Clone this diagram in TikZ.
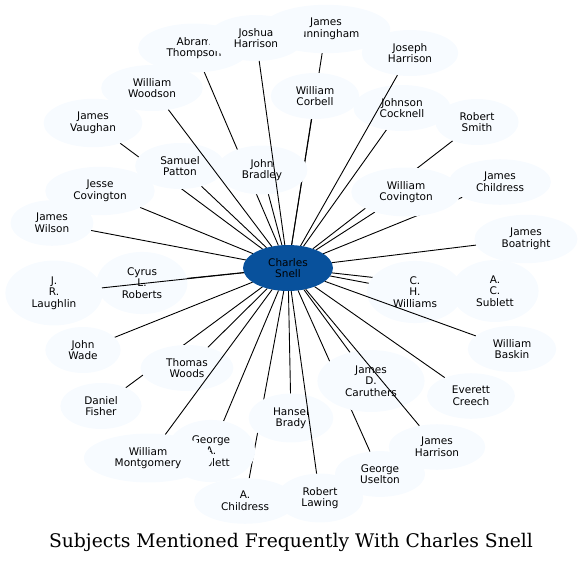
\documentclass[tikz,border=0pt]{standalone}
\usepackage{fontspec}
\usepackage{tikz}
\usetikzlibrary{shapes.geometric}
\newfontfamily\namefont{DejaVu Sans}
\newfontfamily\titlefont{DejaVu Serif}
\definecolor{palefill}{HTML}{F7FBFF}
\definecolor{hubfill}{HTML}{08519C}
\pgfdeclarelayer{background}
\pgfsetlayers{background,main}

\begin{document}
\begin{tikzpicture}[x=1pt, y=-1pt,
		person/.style={ellipse, fill=palefill, inner xsep=12pt, inner ysep=6.4pt, outer sep=0pt, align=center, font=\namefont\fontsize{10.5}{11.6}\selectfont},
		hub/.style={person, fill=hubfill},
		link/.style={line width=0.9pt}]
			\useasboundingbox (0,0) rectangle (582,563);

			\node[hub] (snell) at (288,268) {Charles\\Snell};

			% outer ring, top
			\node[person] (abram) at (194,48) {Abram\\Thompson};
			\node[person] (cunningham) at (326,29) {James\\Cunningham};
			\node[person] (joshua) at (256,38) {Joshua\\Harrison};
			\node[person] (josephh) at (410,53) {Joseph\\Harrison};
			\node[person] (woodson) at (152,88) {William\\Woodson};
			\node[person] (corbell) at (315,96) {William\\Corbell};
			\node[person] (cocknell) at (402,108) {Johnson\\Cocknell};
			\node[person] (smith) at (477,122) {Robert\\Smith};
			\node[person] (vaughan) at (93,123) {James\\Vaughan};
			\node[person] (patton) at (180,166) {Samuel\\Patton};
			\node[person] (bradley) at (262,170) {John\\Bradley};
			\node[person] (jchildress) at (500,182) {James\\Childress};
			\node[person] (jesse) at (100,191) {Jesse\\Covington};
			\node[person] (wcovington) at (406,192) {William\\Covington};
			\node[person] (wilson) at (52,223) {James\\Wilson};
			\node[person] (boatright) at (526,239) {James\\Boatright};

			% middle
			\node[person] (laughlin) at (54,293) {J.\\R.\\Laughlin};
			\node[person] (cyrus) at (142,283) {Cyrus\\L.\\Roberts};
			\node[person] (chwilliams) at (415,292) {C.\\H.\\Williams};
			\node[person] (acsublett) at (495,291) {A.\\C.\\Sublett};

			% bottom
			\node[person] (wade) at (83,350) {John\\Wade};
			\node[person] (baskin) at (512,349) {William\\Baskin};
			\node[person] (thomas) at (187,368) {Thomas\\Woods};
			\node[person] (caruthers) at (371,381) {James\\D.\\Caruthers};
			\node[person] (fisher) at (101,406) {Daniel\\Fisher};
			\node[person] (creech) at (471,396) {Everett\\Creech};
			\node[person] (hansel) at (291,418) {Hansel\\Brady};
			\node[person] (gasublett) at (211,451) {George\\A.\\Sublett};
			\node[person] (jamesh) at (437,447) {James\\Harrison};
			\node[person] (montgomery) at (148,458) {William\\Montgomery};
			\node[person] (uselton) at (380,474) {George\\Uselton};
			\node[person] (achildress) at (245,501) {A.\\Childress};
			\node[person] (lawing) at (320,498) {Robert\\Lawing};

			% links hidden under the names
			\begin{pgfonlayer}{background}
				\foreach \who in {abram, cunningham, corbell, cocknell, smith, vaughan, patton, bradley, jchildress, jesse, wcovington, wilson, boatright, cyrus, chwilliams, acsublett, wade, thomas, caruthers, fisher, creech, hansel, gasublett, uselton, achildress}
					\draw[link] (snell) -- (\who);
			\end{pgfonlayer}

			% links drawn across other names
			\foreach \who in {joshua, josephh, woodson, laughlin, baskin, jamesh, lawing, montgomery}
				\draw[link] (snell) -- (\who);

			\node[anchor=base, font=\titlefont\fontsize{18.75}{22}\selectfont] (title) at (291,547) {Subjects Mentioned Frequently With Charles Snell};
		\end{tikzpicture}
\end{document}
